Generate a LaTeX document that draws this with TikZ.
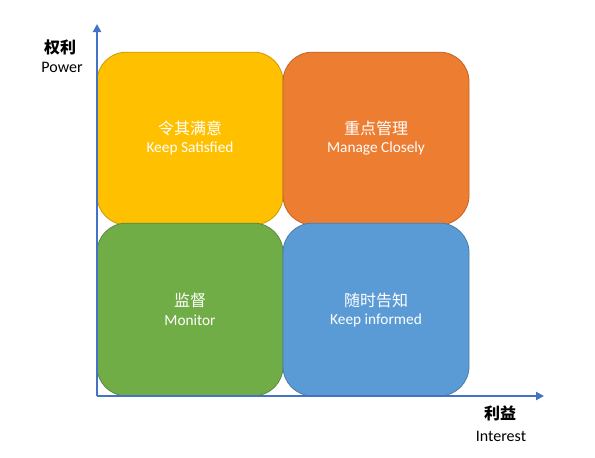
\documentclass[tikz,border=0pt]{standalone}
\usepackage{fontspec}
\setmainfont{Carlito}
\newfontfamily\cjk{Noto Sans CJK SC}
\usetikzlibrary{arrows.meta}
\definecolor{cyel}{HTML}{FFC000}
\definecolor{cora}{HTML}{ED7D31}
\definecolor{cgrn}{HTML}{70AD47}
\definecolor{cblu}{HTML}{5B9BD5}
\definecolor{caxis}{HTML}{4472C4}
\tikzset{
  quad/.style={rounded corners=22pt, minimum width=139.5pt, minimum height=129.5pt, inner sep=0pt, line width=0.6pt},
  zh/.style={font=\cjk\fontsize{12}{14}\selectfont, text=white, inner sep=0pt},
  en/.style={font=\fontsize{11.5}{13}\selectfont, text=white, inner sep=0pt},
  axlab/.style={font=\cjk\bfseries\fontsize{12}{14}\selectfont, text=black, inner sep=0pt},
  axen/.style={font=\fontsize{12}{14}\selectfont, text=black, inner sep=0pt},
  axis/.style={draw=caxis, line width=1.5pt, -{Triangle[length=6pt,width=6pt]}}
}
\begin{document}
\begin{tikzpicture}[x=0.75pt,y=-0.75pt]
\useasboundingbox (0,0) rectangle (595,457);
\node[quad, fill=cyel, draw=cyel!80!black] (q1) at (190,138.5) {};
\node[quad, fill=cora, draw=cora!80!black] (q2) at (376,138.5) {};
\node[quad, fill=cgrn, draw=cgrn!80!black] (q3) at (190,309.5) {};
\node[quad, fill=cblu, draw=cblu!80!black] (q4) at (376,309.5) {};
\node[zh] (t1) at (190,128) {令其满意};
\node[en] (e1) at (190,148) {Keep Satisfied};
\node[zh] (t2) at (376,128) {重点管理};
\node[en] (e2) at (376,148) {Manage Closely};
\node[zh] (t3) at (190,300) {监督};
\node[en] (e3) at (190,320) {Monitor};
\node[zh] (t4) at (376,300) {随时告知};
\node[en] (e4) at (376,320) {Keep informed};
\coordinate (o) at (97,396);
\coordinate (ytop) at (97,24);
\coordinate (xend) at (544,396);
\draw[axis] (o) -- (ytop);
\draw[axis] (o) -- (xend);
\node[axlab] (yl) at (60,47) {权利};
\node[axen] (ye) at (62,67) {Power};
\node[axlab] (xl) at (500,413) {利益};
\node[axen] (xe) at (501,436) {Interest};
\end{tikzpicture}
\end{document}
